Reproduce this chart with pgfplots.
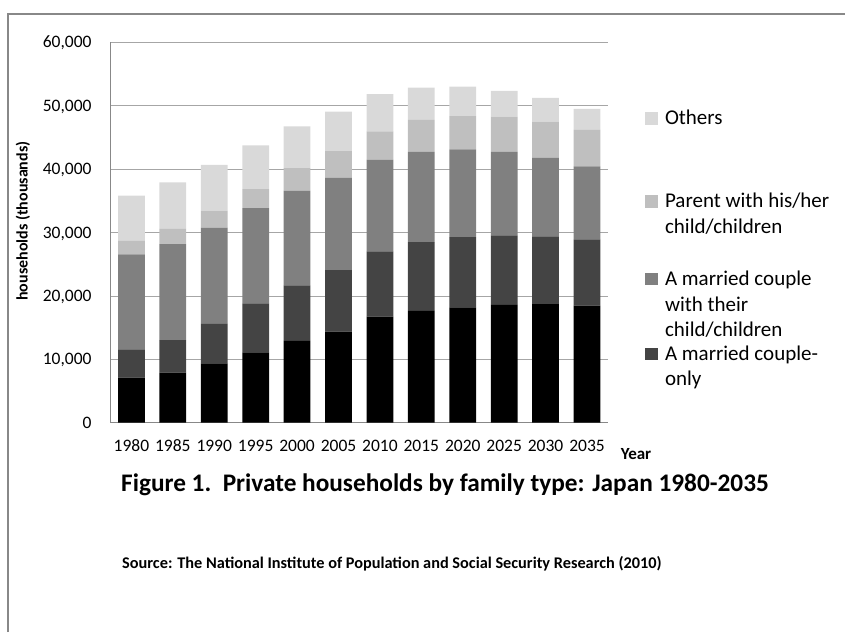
\documentclass[border=0pt]{standalone}
\usepackage{pgfplots}
\usepackage{pgfplotstable}
\pgfplotsset{compat=1.18}
\usepackage{fontspec}
\setmainfont{Carlito}
\definecolor{cOne}{HTML}{000000}
\definecolor{cCouple}{HTML}{444444}
\definecolor{cCwc}{HTML}{808080}
\definecolor{cPar}{HTML}{BFBFBF}
\definecolor{cOth}{HTML}{D9D9D9}
\definecolor{gridc}{HTML}{A6A6A6}
\definecolor{framec}{HTML}{888888}

\pgfplotstableread{
x one couple cwc parent others
0 7100 4480 14980 2100 7150
1 7890 5150 15140 2410 7320
2 9370 6200 15190 2680 7210
3 11100 7730 15030 3000 6890
4 12890 8780 14920 3580 6580
5 14350 9730 14560 4210 6200
6 16720 10320 14450 4480 5840
7 17620 10880 14200 5050 5090
8 18200 11090 13830 5250 4620
9 18570 10990 13140 5570 4050
10 18720 10680 12400 5680 3740
11 18450 10480 11510 5730 3310
}\datatable

\pgfplotsset{sqleg/.style 2 args={legend image code/.code={\fill[##1,draw=none] (0pt,#1) rectangle (12.5pt,#1+12.5pt); \path (0pt,#1+17pt) (0pt,-#2);}}}

\begin{document}
\begin{tikzpicture}[x=1pt,y=1pt]
\useasboundingbox (0,0) rectangle (845,632);
\draw[framec, line width=1.5pt] (8,0) -- (8,618) -- (846,618);
\begin{axis}[
  at={(110.7pt,209.3pt)}, anchor=south west,
  scale only axis, width=497pt, height=380.4pt,
  ybar stacked, bar width=26.7pt,
  xmin=-0.5, xmax=11.5, ymin=0, ymax=60000,
  xtick={0,1,...,11},
  xticklabels={1980,1985,1990,1995,2000,2005,2010,2015,2020,2025,2030,2035},
  ytick={0,10000,20000,30000,40000,50000,60000},
  scaled y ticks=false,
  /pgf/number format/.cd, fixed, 1000 sep={,}, assume math mode=true, /pgfplots/.cd,
  axis x line*=bottom, axis y line*=left,
  axis line style={framec, line width=0.8pt, -},
  ymajorgrids, grid style={gridc, line width=0.8pt},
  major tick length=0pt,
  tick label style={font=\fontsize{17.5}{20}\selectfont, inner sep=0pt},
  xticklabel style={anchor=base, yshift=-28.3pt},
  yticklabel style={anchor=base east, xshift=-19pt, yshift=-5.5pt},
  ylabel={households (thousands)},
  ylabel style={font=\bfseries\fontsize{16}{19}\selectfont, at={(axis description cs:-0.1765,0.530)}, anchor=center},
  xlabel={Year},
  xlabel style={font=\bfseries\fontsize{17}{20}\selectfont, at={(axis description cs:1.057,-0.0823)}, anchor=center},
  reverse legend,
  legend style={at={(axis description cs:1.0751,0.8273)}, anchor=north west,
    draw=none, fill=none, inner sep=0pt, outer sep=0pt,
    row sep=0pt, column sep=5.5pt,
    font=\fontsize{21}{25.5}\selectfont,
    cells={align=left, inner sep=0pt, outer sep=0pt, anchor=base west}},
]
\addplot[fill=cOne, draw=none, forget plot] table[x=x, y=one]{\datatable};
\addplot[fill=cCouple, draw=none, sqleg={25.5pt}{10pt}] table[x=x, y=couple]{\datatable};
\addlegendentry{A married couple-\\only}
\addplot[fill=cCwc, draw=none, sqleg={51pt}{6.5pt}] table[x=x, y=cwc]{\datatable};
\addlegendentry{A married couple\\with their\\child/children}
\addplot[fill=cPar, draw=none, sqleg={25.5pt}{35pt}] table[x=x, y=parent]{\datatable};
\addlegendentry{Parent with his/her\\child/children}
\addplot[fill=cOth, draw=none, sqleg={0pt}{66pt}] table[x=x, y=others]{\datatable};
\addlegendentry{Others}
\end{axis}
\node[anchor=base west, font=\bfseries\fontsize{25.3}{30}\selectfont, inner sep=0pt] at (121,141) {Figure 1.\ \ Private households by family type: Japan 1980-2035};
\node[anchor=base west, font=\bfseries\fontsize{16.3}{19}\selectfont, inner sep=0pt] at (122,64) {Source: The National Institute of Population and Social Security Research (2010)};
\end{tikzpicture}
\end{document}
